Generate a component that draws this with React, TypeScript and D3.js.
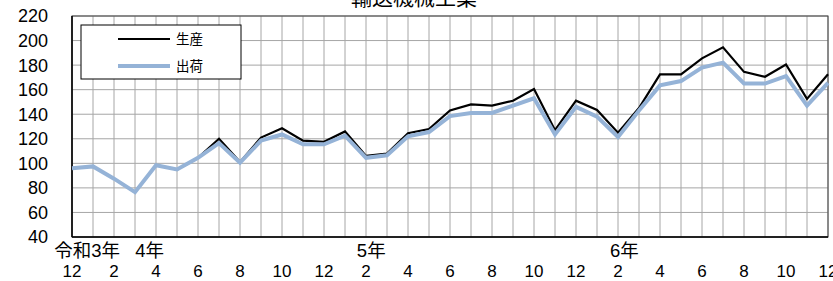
import * as d3 from "d3";

// 令和3年12月 〜 令和6年12月
const months = [12, 1, 2, 3, 4, 5, 6, 7, 8, 9, 10, 11, 12, 1, 2, 3, 4, 5, 6, 7, 8, 9, 10, 11, 12, 1, 2, 3, 4, 5, 6, 7, 8, 9, 10, 11, 12];
const production = [96, 97.5, 87.5, 76.5, 98.5, 95, 104.5, 120, 101, 121, 128.5, 118.5, 117.5, 126, 106, 108, 124.5, 128, 143, 148, 147, 151, 160.5, 127, 151, 143.5, 125, 145, 172.5, 172.5, 185.5, 194.5, 174.5, 170.5, 180.5, 152.5, 172.5];
const shipments = [96, 97.5, 87.5, 76.5, 98.5, 95, 104.5, 116.5, 100.5, 118.5, 123.5, 115.5, 115.5, 122.5, 104.5, 106.5, 122, 125.5, 138.5, 141, 141, 147, 153, 123.5, 146, 138, 121.5, 143, 163.5, 167, 178, 182, 165, 165, 171, 147, 165.5];
const yearLabels = [
  { label: "令和3年", at: -0.85, anchor: "start" },
  { label: "4年", at: 3.7, anchor: "middle" },
  { label: "5年", at: 14.25, anchor: "middle" },
  { label: "6年", at: 26.3, anchor: "middle" },
];
const yTicks = d3.range(40, 221, 20);

const width = 833;
const height = 281;
const marginLeft = 72;
const marginRight = 5;
const marginTop = 16;
const marginBottom = 44;

const font = "'Liberation Sans', Arial, 'Noto Sans CJK JP', sans-serif";

export default function App() {
  const x = d3.scaleLinear([0, months.length - 1], [marginLeft, width - marginRight]);
  const y = d3.scaleLinear([40, 220], [height - marginBottom, marginTop]);
  const line = d3
    .line<number>()
    .x((_, i) => x(i))
    .y((d) => y(d));

  return (
    <svg width={width} height={height} style={{ position: "absolute", left: 0, top: 0, background: "#fff" }} fontFamily={font}>
      <text x={414} y={5} textAnchor="middle" fontSize={21} fill="#000">輸送機械工業</text>
      <g stroke="#a6a6a6" strokeWidth={1}>
        {months.map((_, i) => (
          <line key={i} x1={x(i)} x2={x(i)} y1={y(220)} y2={y(40)} />
        ))}
        {yTicks.map((t) => (
          <line key={t} x1={x(0)} x2={x(months.length - 1)} y1={y(t)} y2={y(t)} />
        ))}
      </g>
      <rect x={x(0)} y={y(220)} width={x(months.length - 1) - x(0)} height={y(40) - y(220)} fill="none" stroke="#404040" strokeWidth={1} />
      <line x1={x(0)} x2={x(0)} y1={y(220)} y2={y(40)} stroke="#000" strokeWidth={1.5} />
      <line x1={x(0)} x2={x(months.length - 1)} y1={y(40)} y2={y(40)} stroke="#000" strokeWidth={1.5} />

      <path d={line(production) ?? ""} fill="none" stroke="#000" strokeWidth={2.2} strokeLinejoin="miter" />
      <path d={line(shipments) ?? ""} fill="none" stroke="#95b3d7" strokeWidth={4} strokeLinejoin="miter" />

      <g fontSize={18} fill="#000" textAnchor="end">
        {yTicks.map((t) => (
          <text key={t} x={48} y={y(t)} dy="0.36em">{t}</text>
        ))}
      </g>
      <g fontSize={17} fill="#000" textAnchor="middle">
        {months.map((m, i) =>
          i % 2 === 0 ? (
            <text key={i} x={x(i)} y={277}>{m}</text>
          ) : null
        )}
      </g>
      <g fontSize={18.5} fill="#000">
        {yearLabels.map((d) => (
          <text key={d.label} x={x(d.at)} y={257} textAnchor={d.anchor}>{d.label}</text>
        ))}
      </g>

      <g>
        <rect x={81} y={25} width={160} height={54} fill="#fff" stroke="#000" strokeWidth={1} />
        <line x1={118} x2={170} y1={39} y2={39} stroke="#000" strokeWidth={2.2} />
        <line x1={118} x2={170} y1={66} y2={66} stroke="#95b3d7" strokeWidth={4} />
        <text x={176} y={39} dy="0.35em" fontSize={13.5} fill="#000">生産</text>
        <text x={176} y={66} dy="0.35em" fontSize={13.5} fill="#000">出荷</text>
      </g>
    </svg>
  );
}
